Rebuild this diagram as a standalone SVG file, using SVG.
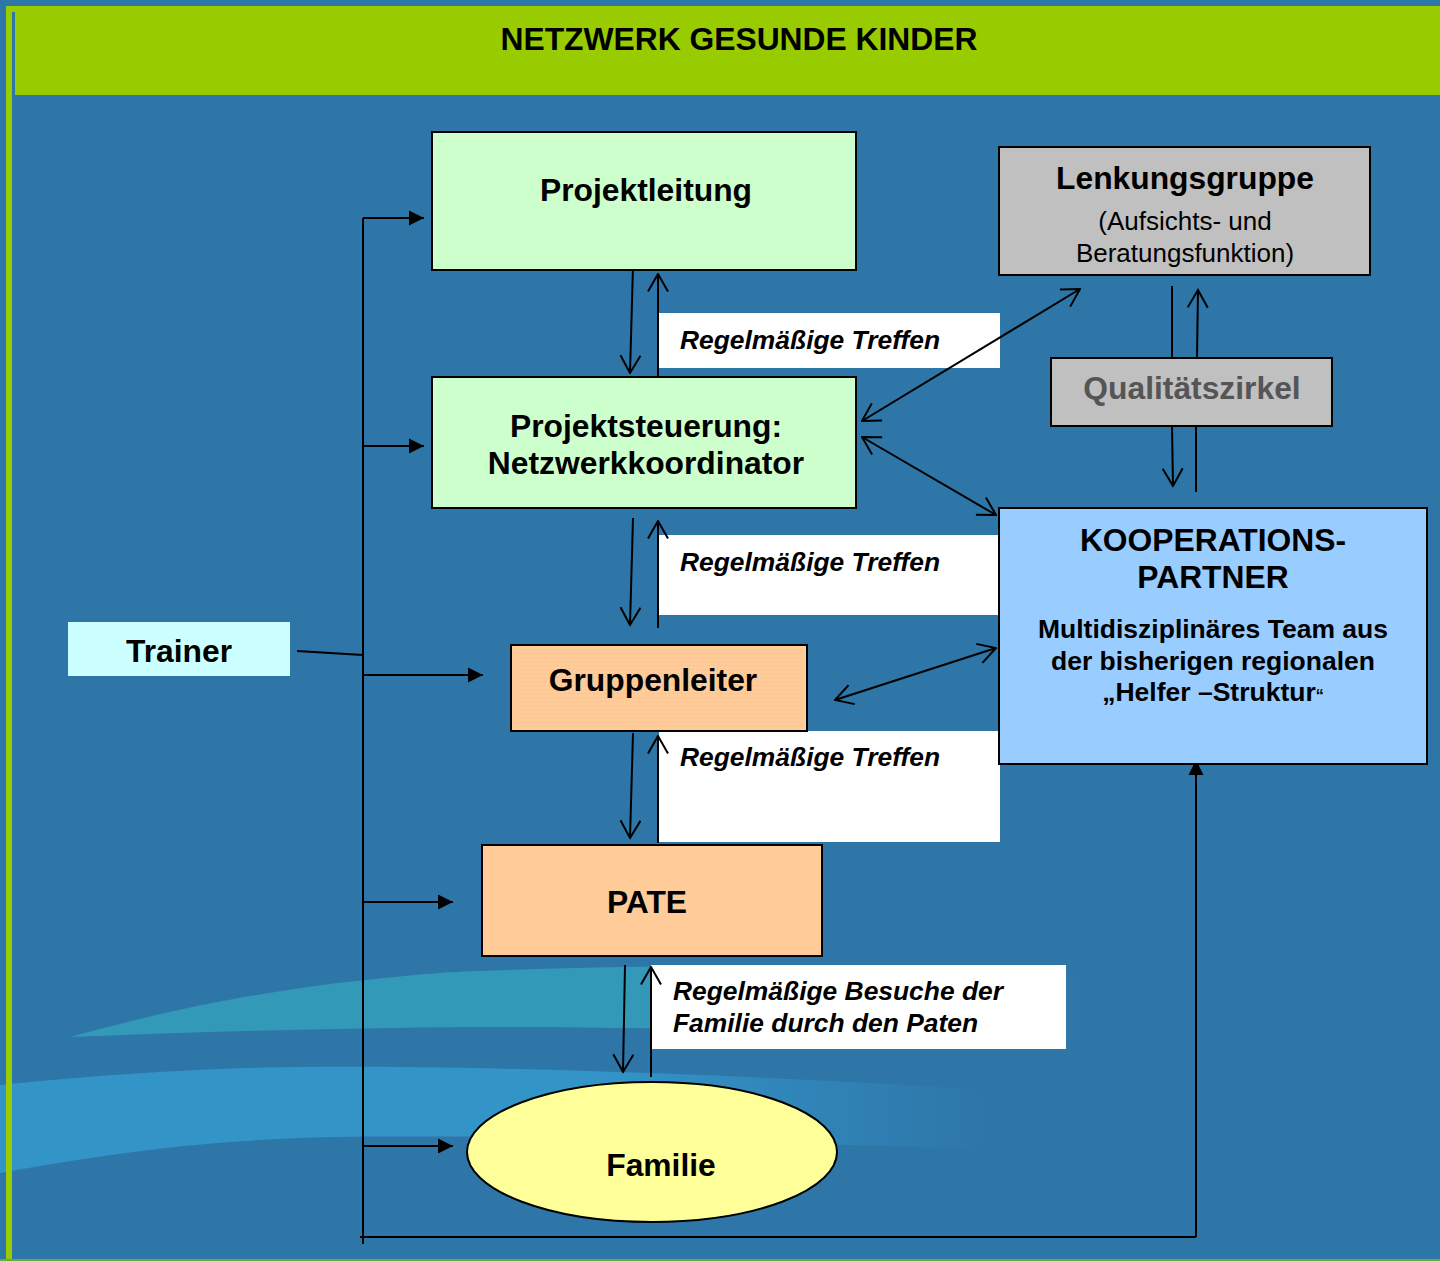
<svg xmlns="http://www.w3.org/2000/svg" width="1440" height="1261" viewBox="0 0 1440 1261">
<style>
  .box{stroke:#000;stroke-width:2}
  .lbl{fill:#fff}
  .t{font-family:"Liberation Sans",Arial,sans-serif;font-weight:bold;font-size:31.8px;fill:#000;text-anchor:middle}
  .r{font-family:"Liberation Sans",Arial,sans-serif;font-size:26px;fill:#000;text-anchor:middle}
  .s{font-family:"Liberation Sans",Arial,sans-serif;font-weight:bold;font-size:26.5px;fill:#000;text-anchor:middle}
  .i{font-family:"Liberation Sans",Arial,sans-serif;font-weight:bold;font-style:italic;font-size:26.4px;fill:#000}
  .c{stroke:#000;stroke-width:2;fill:none}
  .o{stroke:#000;stroke-width:2;fill:none;marker-end:url(#open)}
  .b{stroke:#000;stroke-width:2;fill:none;marker-start:url(#openS);marker-end:url(#open)}
  .f{stroke:#000;stroke-width:2;fill:none;marker-end:url(#solid)}
</style>
<defs>
  <marker id="open" viewBox="0 0 20 22" refX="18.5" refY="11" markerWidth="20" markerHeight="22" markerUnits="userSpaceOnUse" orient="auto">
    <path d="M1,1 L18.5,11 L1,21" fill="none" stroke="#000" stroke-width="2"/>
  </marker>
  <marker id="openS" viewBox="0 0 20 22" refX="1.5" refY="11" markerWidth="20" markerHeight="22" markerUnits="userSpaceOnUse" orient="auto">
    <path d="M19,1 L1.5,11 L19,21" fill="none" stroke="#000" stroke-width="2"/>
  </marker>
  <marker id="solid" viewBox="0 0 16 16" refX="15" refY="8" markerWidth="16" markerHeight="16" markerUnits="userSpaceOnUse" orient="auto">
    <path d="M0,0.5 L15,8 L0,15.5 Z" fill="#000"/>
  </marker>
  <pattern id="dots" width="4" height="4" patternUnits="userSpaceOnUse">
    <rect x="1" y="1" width="1" height="1" fill="#C8B8A8"/>
  </pattern>
  <linearGradient id="bandFade" x1="0" y1="0" x2="1" y2="0">
    <stop offset="0" stop-color="#3394C8"/>
    <stop offset="0.6" stop-color="#3394C8"/>
    <stop offset="1" stop-color="#3394C8" stop-opacity="0"/>
  </linearGradient>
  <linearGradient id="tealFade" x1="0" y1="0" x2="1" y2="0">
    <stop offset="0" stop-color="#3399B8"/>
    <stop offset="0.55" stop-color="#3399B8"/>
    <stop offset="1" stop-color="#3399B8" stop-opacity="0"/>
  </linearGradient>
</defs>

<!-- background -->
<rect x="0" y="0" width="1440" height="1261" fill="#2E75A8"/>
<path d="M70,1037 C150,1015 230,997 330,984 C400,976 440,972 480,971 C650,965 850,962 1100,975 L1100,1040 C850,1032 650,1027 480,1027 C330,1028 200,1032 70,1037 Z" fill="url(#tealFade)"/>
<path d="M0,1085 C100,1075 200,1068 300,1067 C450,1066 650,1070 1000,1090 L1000,1150 C700,1140 500,1135 333,1137 C200,1140 100,1155 0,1173 Z" fill="url(#bandFade)"/>
<rect x="6" y="6" width="1434" height="89" fill="#99CC00"/>
<rect x="6" y="6" width="6" height="1255" fill="#99CC00"/>
<rect x="12" y="12" width="3" height="83" fill="#2E75A8"/>
<rect x="0" y="1259" width="1440" height="2" fill="#66AA44"/>
<text x="739" y="50" class="t" font-size="31">NETZWERK GESUNDE KINDER</text>

<!-- label boxes -->
<g id="label1"><rect class="lbl" x="659" y="313" width="341" height="55"/><text class="i" x="680" y="349">Regelmäßige Treffen</text></g>
<g id="label2"><rect class="lbl" x="659" y="535" width="341" height="80"/><text class="i" x="680" y="571">Regelmäßige Treffen</text></g>
<g id="label3"><rect class="lbl" x="659" y="731" width="341" height="111"/><text class="i" x="680" y="766">Regelmäßige Treffen</text></g>
<g id="label4"><rect class="lbl" x="651" y="965" width="415" height="84"/><text class="i" x="673" y="1000">Regelmäßige Besuche der</text><text class="i" x="673" y="1032">Familie durch den Paten</text></g>

<!-- connectors -->
<g id="connectors">
  <path class="c" d="M363,218 L363,1244"/>
  <path class="c" d="M360,1237 L1196,1237"/>
  <path class="f" d="M1196,1237 L1196,760"/>
  <path class="f" d="M363,218 L424,218"/>
  <path class="f" d="M363,446 L424,446"/>
  <path class="f" d="M363,675 L483,675"/>
  <path class="f" d="M363,902 L453,902"/>
  <path class="f" d="M363,1146 L453,1146"/>
  <path class="c" d="M297,651 L363,655"/>

  <path class="o" d="M633,266 L630,373"/>
  <path class="o" d="M658,380 L658,274"/>
  <path class="o" d="M633,518 L630,625"/>
  <path class="o" d="M658,628 L658,521"/>
  <path class="o" d="M633,733 L630,838"/>
  <path class="o" d="M658,843 L658,736"/>
  <path class="o" d="M625,965 L623,1072"/>
  <path class="o" d="M651,1077 L651,967"/>

  <path class="b" d="M862,421 L1080,289"/>
  <path class="b" d="M862,437 L996,515"/>
  <path class="b" d="M835,700 L996,648"/>

  <path class="c" d="M1172,286 L1172,358"/>
  <path class="o" d="M1172,426 L1173,486"/>
  <path class="c" d="M1196,492 L1196,426"/>
  <path class="o" d="M1197,358 L1198,290"/>
</g>

<!-- nodes -->
<g id="projektleitung">
  <rect class="box" x="432" y="132" width="424" height="138" fill="#CCFFCC"/>
  <text class="t" x="646" y="201">Projektleitung</text>
</g>
<g id="projektsteuerung">
  <rect class="box" x="432" y="377" width="424" height="131" fill="#CCFFCC"/>
  <text class="t" x="646" y="437">Projektsteuerung:</text>
  <text class="t" x="646" y="474">Netzwerkkoordinator</text>
</g>
<g id="gruppenleiter">
  <rect class="box" x="511" y="645" width="296" height="86" fill="#FFCC99"/>
  <rect x="514" y="648" width="290" height="80" fill="url(#dots)" opacity="0.6"/>
  <text class="t" x="653" y="691">Gruppenleiter</text>
</g>
<g id="pate">
  <rect class="box" x="482" y="845" width="340" height="111" fill="#FFCC99"/>
  <text class="t" x="647" y="913">PATE</text>
</g>
<g id="familie">
  <ellipse class="box" cx="652" cy="1152" rx="185" ry="70" fill="#FFFF99"/>
  <text class="t" x="661" y="1176">Familie</text>
</g>
<g id="trainer">
  <rect x="68" y="622" width="222" height="54" fill="#CCFFFF"/>
  <text class="t" x="179" y="662">Trainer</text>
</g>
<g id="lenkungsgruppe">
  <rect class="box" x="999" y="147" width="371" height="128" fill="#C0C0C0"/>
  <text class="t" x="1185" y="189">Lenkungsgruppe</text>
  <text class="r" x="1185" y="230">(Aufsichts- und</text>
  <text class="r" x="1185" y="262">Beratungsfunktion)</text>
</g>
<g id="qualitaetszirkel">
  <rect class="box" x="1051" y="358" width="281" height="68" fill="#C0C0C0"/>
  <text class="t" x="1192" y="399" style="fill:#555555">Qualitätszirkel</text>
</g>
<g id="kooperationspartner">
  <rect class="box" x="999" y="508" width="428" height="256" fill="#99CCFF"/>
  <text class="t" x="1213" y="551">KOOPERATIONS-</text>
  <text class="t" x="1213" y="588">PARTNER</text>
  <text class="s" x="1213" y="638">Multidisziplinäres Team aus</text>
  <text class="s" x="1213" y="670">der bisherigen regionalen</text>
  <text class="s" x="1213" y="701">„Helfer –Struktur<tspan font-size="16">“</tspan></text>
</g>
</svg>
